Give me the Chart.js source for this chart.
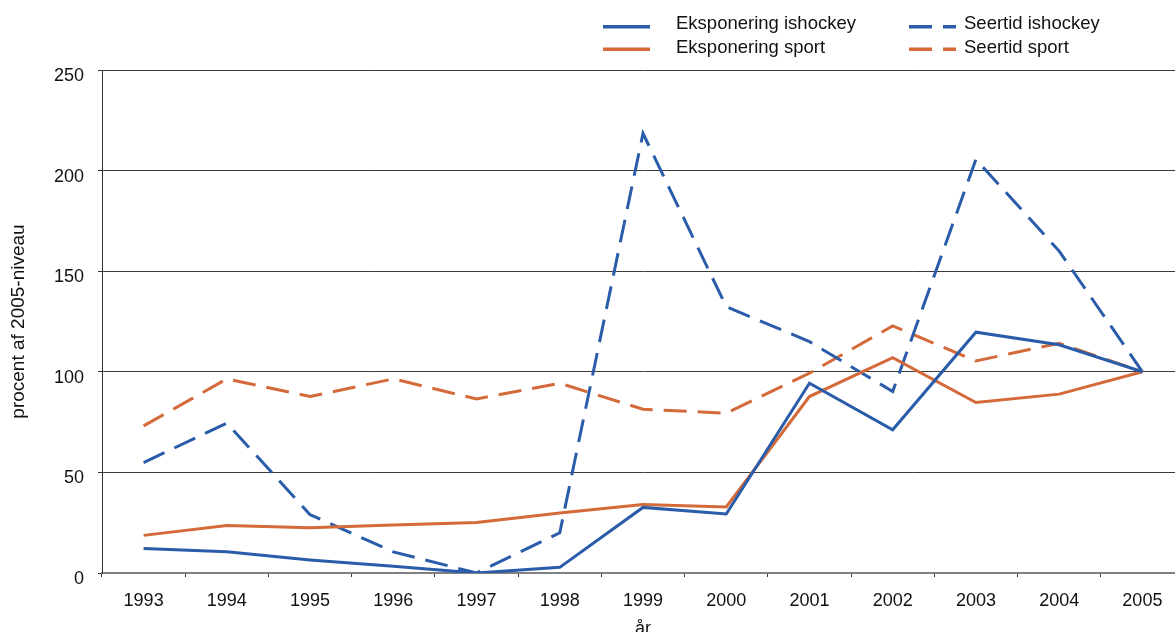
<!DOCTYPE html>
<html>
<head>
<meta charset="utf-8">
<script src="https://cdn.jsdelivr.net/npm/chart.js@4/dist/chart.umd.min.js"></script>
<style>
  html, body { margin: 0; padding: 0; background: #fff; overflow: hidden; }
  #wrap { position: relative; width: 1175px; height: 632px; overflow: hidden; }
  #chart { position: absolute; left: 0; top: 0; }
  #legend { position: absolute; left: 0; top: 0; }
  #legend text { font-family: "Liberation Sans", Arial, sans-serif; font-size: 18.5px; fill: #111; }
</style>
</head>
<body>
<div id="wrap">
  <canvas id="chart" width="1184" height="660"></canvas>
  <svg id="legend" width="1175" height="62"></svg>
</div>
<script>
// år og indeks (2005 = 100)
const years = ['1993', '1994', '1995', '1996', '1997', '1998', '1999', '2000', '2001', '2002', '2003', '2004', '2005'];
const eksponeringIshockey = [12.2, 10.6, 6.5, 3.3, 0, 2.8, 32.6, 29.3, 94.3, 71.2, 119.7, 113.4, 100];
const eksponeringSport = [18.7, 23.6, 22.5, 23.8, 25.1, 29.8, 34.1, 32.8, 87.7, 107.0, 84.7, 88.9, 100];
const seertidIshockey = [54.9, 74.5, 29, 10.5, 0, 20, 218.5, 132.4, 115, 90.2, 205.6, 160, 100];
const seertidSport = [73.1, 96.5, 87.7, 96.5, 86.5, 94.3, 81.4, 79.4, 99.3, 122.8, 105.4, 114.2, 100];
const yTicks = [0, 50, 100, 150, 200, 250];

const BLUE = '#2a5caa';
const ORANGE = '#d4693a';
const DASH = [23, 11];
const FONT = '"Liberation Sans", Arial, sans-serif';

const series = [
  { label: 'Eksponering ishockey', data: eksponeringIshockey, color: BLUE, dash: [] },
  { label: 'Eksponering sport', data: eksponeringSport, color: ORANGE, dash: [] },
  { label: 'Seertid ishockey', data: seertidIshockey, color: BLUE, dash: DASH },
  { label: 'Seertid sport', data: seertidSport, color: ORANGE, dash: DASH }
];

new Chart(document.getElementById('chart'), {
  type: 'line',
  data: {
    labels: years,
    datasets: series.map(s => ({
      label: s.label,
      data: s.data,
      borderColor: s.color,
      backgroundColor: s.color,
      borderWidth: 3,
      borderDash: s.dash,
      pointRadius: 0,
      tension: 0,
      fill: false
    }))
  },
  options: {
    responsive: false,
    animation: false,
    devicePixelRatio: 1,
    layout: { padding: { top: 70, left: 0, right: 0, bottom: 0 } },
    plugins: { legend: { display: false }, tooltip: { enabled: false } },
    scales: {
      x: {
        offset: true,
        grid: { display: true, drawOnChartArea: false, tickLength: 4, color: '#333', offset: true },
        border: { display: true, color: '#808080', width: 2 },
        ticks: { color: '#111', font: { family: FONT, size: 18 }, padding: 13, maxRotation: 0 },
        title: { display: true, text: 'år', color: '#111', font: { family: FONT, size: 18 }, padding: { top: 0, bottom: 20 } },
        afterFit: s => { s.height = 87; s.paddingLeft = 0; s.paddingRight = 0; }
      },
      y: {
        min: 0,
        max: 250,
        afterBuildTicks: s => { s.ticks = yTicks.map(v => ({ value: v })); },
        grid: {
          tickLength: 4,
          tickColor: '#333',
          color: c => (c.tick && c.tick.value === 0 ? 'rgba(0,0,0,0)' : '#3c3c3c'),
          lineWidth: 1
        },
        border: { display: true, color: '#333', width: 1 },
        ticks: { color: '#111', font: { family: FONT, size: 18 }, padding: 14, labelOffset: 6 },
        title: { display: true, text: 'procent af 2005-niveau', color: '#111', font: { family: FONT, size: 19 }, padding: { top: 7, bottom: 0 } },
        afterFit: s => { s.width = 102; s.paddingTop = 0; s.paddingBottom = 0; }
      }
    }
  }
});

// forklaring i to kolonner over plottet
const legendItems = [
  { i: 0, lineX: 603, textX: 676, row: 0 },
  { i: 1, lineX: 603, textX: 676, row: 1 },
  { i: 2, lineX: 909, textX: 964, row: 0 },
  { i: 3, lineX: 909, textX: 964, row: 1 }
];
const rowLineY = [26.7, 49.3];
const rowBaseline = [29, 53.3];
const svg = document.getElementById('legend');
const NS = 'http://www.w3.org/2000/svg';
legendItems.forEach(it => {
  const s = series[it.i];
  const line = document.createElementNS(NS, 'line');
  line.setAttribute('x1', it.lineX);
  line.setAttribute('x2', it.lineX + 47);
  line.setAttribute('y1', rowLineY[it.row]);
  line.setAttribute('y2', rowLineY[it.row]);
  line.setAttribute('stroke', s.color);
  line.setAttribute('stroke-width', 3.5);
  if (s.dash.length) line.setAttribute('stroke-dasharray', s.dash.join(' '));
  svg.appendChild(line);
  const t = document.createElementNS(NS, 'text');
  t.setAttribute('x', it.textX);
  t.setAttribute('y', rowBaseline[it.row]);
  t.textContent = s.label;
  svg.appendChild(t);
});
</script>
</body>
</html>
